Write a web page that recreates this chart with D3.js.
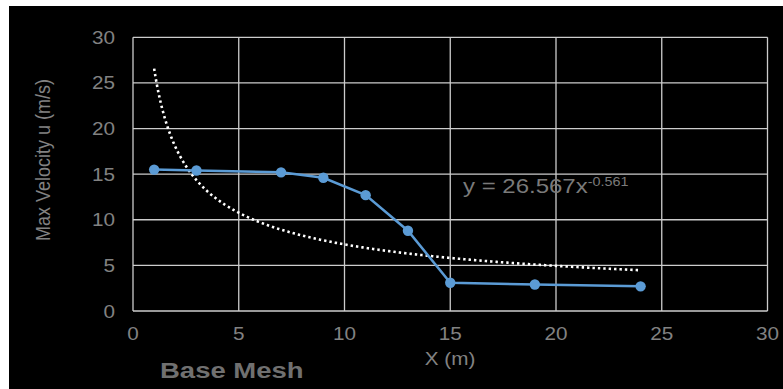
<!DOCTYPE html>
<html>
<head>
<meta charset="utf-8">
<script src="https://cdn.jsdelivr.net/npm/d3@7"></script>
<style>
html,body{margin:0;padding:0;background:#fff;}
svg{display:block;}
text{font-family:"Liberation Sans",Arial,sans-serif;}
</style>
</head>
<body>
<svg id="chart" width="783" height="389"></svg>
<script>
// ---- data ----
const xValues = [1, 3, 7, 9, 11, 13, 15, 19, 24];
const uValues = [15.5, 15.4, 15.2, 14.6, 12.7, 8.8, 3.1, 2.9, 2.7];
const xTicks = [0, 5, 10, 15, 20, 25, 30];
const yTicks = [0, 5, 10, 15, 20, 25, 30];
const trendCoefA = 26.567;
const trendExpB = -0.561;
const trendLabel = "y = 26.567x";
const trendSup = "-0.561";
const yTitle = "Max Velocity u (m/s)";
const xTitle = "X (m)";
const caption = "Base Mesh";

const svg = d3.select("#chart");
const W = 783, H = 389;
const sx = 1.15;

svg.append("rect").attr("x", 9).attr("y", 6).attr("width", W - 9).attr("height", H - 6).attr("fill", "#000");

const x = d3.scaleLinear().domain([0, 30]).range([133, 767.5]);
const y = d3.scaleLinear().domain([0, 30]).range([311, 37.3]);

const gridColor = "#cccccc";
// horizontal grid
svg.append("g").selectAll("line").data(yTicks).join("line")
  .attr("x1", x(0)).attr("x2", x(30))
  .attr("y1", d => y(d)).attr("y2", d => y(d))
  .attr("stroke", gridColor).attr("stroke-width", 1.3);
// vertical grid
svg.append("g").selectAll("line").data(xTicks).join("line")
  .attr("y1", y(0)).attr("y2", y(30))
  .attr("x1", d => x(d)).attr("x2", d => x(d))
  .attr("stroke", gridColor).attr("stroke-width", 1.3);

function stretchedText(px, py, str, opts) {
  const g = svg.append("g").attr("transform", `translate(${px},${py}) scale(${opts.sx || sx},1)`);
  g.append("text").attr("x", 0).attr("y", 0)
    .attr("text-anchor", opts.anchor || "start")
    .attr("font-size", opts.size)
    .attr("font-weight", opts.weight || "normal")
    .attr("fill", opts.fill || "#7f7f7f")
    .text(str);
  return g;
}

const tickColor = "#828282";
yTicks.forEach(d => stretchedText(115, y(d) + 6.5, d3.format("d")(d), {anchor: "end", size: 18, fill: tickColor}));
xTicks.forEach(d => stretchedText(x(d), 340, d3.format("d")(d), {anchor: "middle", size: 18, fill: tickColor}));

stretchedText(450, 365, xTitle, {anchor: "middle", size: 18, fill: tickColor});
svg.append("g").attr("transform", "translate(50,160) rotate(-90) scale(1,1.15)")
  .append("text")
  .attr("text-anchor", "middle")
  .attr("font-size", 18)
  .attr("fill", tickColor)
  .text(yTitle);

stretchedText(160, 378, caption, {size: 22, weight: "bold", fill: "#707070", sx: 1.25});

// trendline from the displayed power-law coefficients
const xs = d3.range(xValues[0], xValues[xValues.length - 1] + 0.001, 0.05);
const trend = xs.map(v => [v, trendCoefA * Math.pow(v, trendExpB)]);
svg.append("path")
  .attr("d", d3.line().x(d => x(d[0])).y(d => y(d[1]))(trend))
  .attr("fill", "none")
  .attr("stroke", "#ffffff")
  .attr("stroke-width", 2.6)
  .attr("stroke-dasharray", "2.4,3");

// series
const pts = xValues.map((v, i) => [v, uValues[i]]);
const blue = "#5b9bd5";
svg.append("path")
  .attr("d", d3.line().x(d => x(d[0])).y(d => y(d[1]))(pts))
  .attr("fill", "none").attr("stroke", blue).attr("stroke-width", 2.5);
svg.append("g").selectAll("circle").data(pts).join("circle")
  .attr("cx", d => x(d[0])).attr("cy", d => y(d[1])).attr("r", 5.2)
  .attr("fill", blue);

// equation
const eq = stretchedText(463, 193, trendLabel, {size: 20, fill: "#7a7a7a", sx: 1.2});
eq.select("text").append("tspan").attr("font-size", 12).attr("dy", -7).text(trendSup);
</script>
</body>
</html>
